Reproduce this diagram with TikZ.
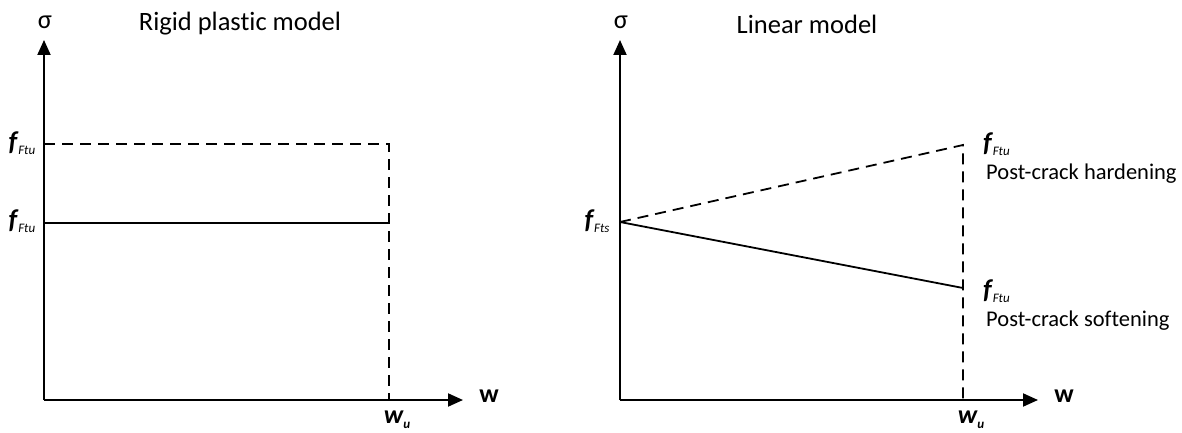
\documentclass[tikz,border=0pt]{standalone}
\usepackage{fontspec}
\setmainfont[Ligatures=NoCommon]{Carlito}
\usetikzlibrary{arrows.meta,positioning}
\tikzset{
  axis/.style={line width=2pt,-{Triangle[length=15pt,width=13pt]}},
  guide/.style={line width=1.8pt,dash pattern=on 11pt off 7pt},
  curve/.style={line width=1.8pt},
  title/.style={font=\fontsize{26.5}{30}\selectfont,inner sep=1pt},
  lbl/.style={font=\fontsize{22.5}{26}\selectfont,inner sep=1pt},
  flbl/.style={font=\fontsize{27}{30}\selectfont\bfseries\itshape,inner sep=1pt},
  wlbl/.style={font=\fontsize{26}{30}\selectfont\bfseries,inner sep=1pt},
}
\newcommand{\fsub}[1]{f\kern1pt\raisebox{-0.3ex}{\fontsize{13}{15}\selectfont\mdseries #1}}
\begin{document}
\begin{tikzpicture}[x=1pt,y=-1pt]
            \useasboundingbox (0,0) rectangle (1182,433);
            % rigid plastic model
            \coordinate (lo) at (44,400);
            \coordinate (ltop) at (44,40);
            \coordinate (lend) at (463,400);
            \coordinate (lhi) at (389,144);
            \coordinate (lmid) at (389,223);
            \draw[axis] (lo) -- (ltop);
            \draw[axis] (lo) -- (lend);
            \draw[guide] (lo |- lhi) -- (lhi) -- (lhi |- lo);
            \draw[curve] (lo |- lmid) -- (lmid);
            \node[title] (lsig) at (45,22) {σ};
            \node[title] (ltitle) at (240,24) {Rigid plastic model};
            \node[flbl] (lfhi) at (22,143) {\fsub{Ftu}};
            \node[flbl] (lfmid) at (22,221) {\fsub{Ftu}};
            \node[wlbl,font=\fontsize{26}{30}\selectfont\bfseries\itshape] (lwu) at (397,420) {w\raisebox{-0.4ex}{\fontsize{13}{15}\selectfont u}};
            \node[wlbl] (lw) at (489,396) {w};
            % linear model
            \coordinate (ro) at (620,400);
            \coordinate (rtop) at (620,40);
            \coordinate (rend) at (1038,400);
            \coordinate (rs) at (620,222);
            \coordinate (rhard) at (963,145);
            \coordinate (rsoft) at (963,288);
            \draw[axis] (ro) -- (rtop);
            \draw[axis] (ro) -- (rend);
            \draw[guide] (rs) -- (rhard) -- (rhard |- ro);
            \draw[curve] (rs) -- (rsoft);
            \node[title] (rsig) at (621,22) {σ};
            \node[title] (rtitle) at (807,24) {Linear model};
            \node[flbl] (rfs) at (597,221) {\fsub{Fts}};
            \node[flbl,anchor=west] (rfhard) at (982,144) {\fsub{Ftu}};
            \node[lbl,anchor=west] (rhardtxt) at (985,174) {Post-crack hardening};
            \node[flbl,anchor=west] (rfsoft) at (982,291) {\fsub{Ftu}};
            \node[lbl,anchor=west] (rsofttxt) at (985,321) {Post-crack softening};
            \node[wlbl,font=\fontsize{26}{30}\selectfont\bfseries\itshape] (rwu) at (971,420) {w\raisebox{-0.4ex}{\fontsize{13}{15}\selectfont u}};
            \node[wlbl] (rw) at (1064,396) {w};
        \end{tikzpicture}
\end{document}
